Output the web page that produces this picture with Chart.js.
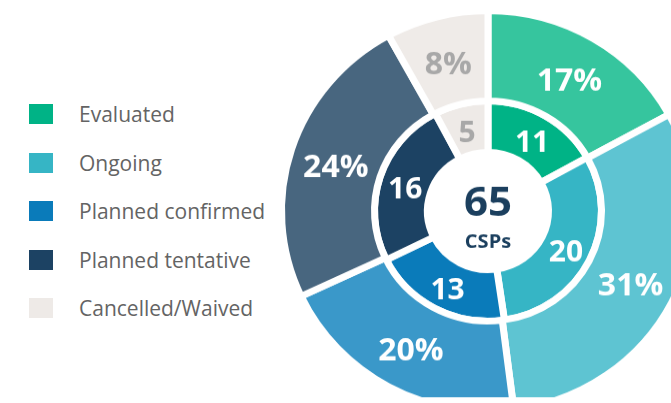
<!DOCTYPE html>
<html>
<head>
<meta charset="utf-8">
<script src="https://cdn.jsdelivr.net/npm/chart.js@4.4.1/dist/chart.umd.min.js"></script>
<style>
    html, body { margin: 0; padding: 0; background: #fff; }
    body { width: 671px; height: 403px; overflow: hidden; position: relative; font-family: 'Open Sans', sans-serif; }
    /* the original picture is a touch flatter than a circle */
    #wrap { position: absolute; left: 0; top: 0; width: 671px; height: 403px; transform: scaleY(0.97); transform-origin: 0 211px; }
    #legend { position: absolute; left: 0; top: 0; width: 280px; height: 403px; }
    .box { position: absolute; left: 29px; width: 24px; height: 20px; }
    .txt { position: absolute; left: 79px; height: 24px; line-height: 24px; font-size: 21px; color: #646464; white-space: nowrap; }
</style>
</head>
<body>
<div id="legend"></div>
<div id="wrap"><canvas id="cspChart" width="671" height="403"></canvas></div>
<script>
// Données du graphique
const labels = ['Evaluated', 'Ongoing', 'Planned confirmed', 'Planned tentative', 'Cancelled/Waived'];
const cspCounts = [11, 20, 13, 16, 5];       // anneau intérieur
const sharePct = [17, 31, 20, 24, 8];        // anneau extérieur (%)
const innerColors = ['#00b386', '#36b5c5', '#0a7bba', '#1c4263', '#eeeae7'];
const outerColors = ['#36c59e', '#5ec4d2', '#3a98c9', '#48667f', '#efebe8'];
const labelColors = ['#ffffff', '#ffffff', '#ffffff', '#ffffff', '#a8a8a8'];
const centerUnit = 'CSPs';

// Légende HTML à gauche
const legend = document.getElementById('legend');
labels.forEach((label, i) => {
    const cy = 114 + i * 48.5;
    const box = document.createElement('div');
    box.className = 'box';
    box.style.top = (cy - 10) + 'px';
    box.style.background = innerColors[i];
    legend.appendChild(box);
    const txt = document.createElement('div');
    txt.className = 'txt';
    txt.style.top = (cy - 12) + 'px';
    txt.textContent = label;
    legend.appendChild(txt);
});

// Étiquettes dans les segments + total au centre
const sliceLabels = {
    id: 'sliceLabels',
    afterDatasetsDraw(chart) {
        const ctx = chart.ctx;
        ctx.save();
        ctx.textAlign = 'center';
        ctx.textBaseline = 'middle';
        chart.data.datasets.forEach((ds, di) => {
            const meta = chart.getDatasetMeta(di);
            meta.data.forEach((arc, i) => {
                const p = arc.getProps(['x', 'y', 'startAngle', 'endAngle', 'innerRadius', 'outerRadius'], true);
                const a = (p.startAngle + p.endAngle) / 2;
                const r = (p.innerRadius + p.outerRadius) / 2;
                ctx.font = 'bold ' + ds.labelSize + 'px "Open Sans"';
                ctx.fillStyle = labelColors[i];
                ctx.fillText(ds.data[i] + ds.suffix, p.x + Math.cos(a) * r, p.y + Math.sin(a) * r + 5);
            });
        });
        const c = chart.getDatasetMeta(0).data[0];
        const total = cspCounts.reduce((s, v) => s + v, 0);
        ctx.fillStyle = '#1b3f5e';
        ctx.font = 'bold 42px "Open Sans"';
        ctx.fillText(String(total), c.x, c.y - 7);
        ctx.font = 'bold 20px "Open Sans"';
        ctx.fillText(centerUnit, c.x, c.y + 32);
        ctx.restore();
    }
};

new Chart(document.getElementById('cspChart').getContext('2d'), {
    type: 'doughnut',
    data: {
        labels: labels,
        datasets: [
            {
                data: sharePct,
                backgroundColor: outerColors,
                borderColor: '#ffffff',
                borderWidth: 7,
                weight: 93,
                labelSize: 32,
                suffix: '%'
            },
            {
                data: cspCounts,
                backgroundColor: innerColors,
                borderColor: '#ffffff',
                borderWidth: 7,
                weight: 53,
                labelSize: 30,
                suffix: ''
            }
        ]
    },
    options: {
        responsive: false,
        animation: false,
        radius: 206.5,
        cutout: '29.3%',
        layout: {
            padding: { left: 305, right: 0, top: 19, bottom: 0 }
        },
        plugins: {
            legend: { display: false },
            tooltip: { enabled: false }
        }
    },
    plugins: [sliceLabels]
});
</script>
</body>
</html>
